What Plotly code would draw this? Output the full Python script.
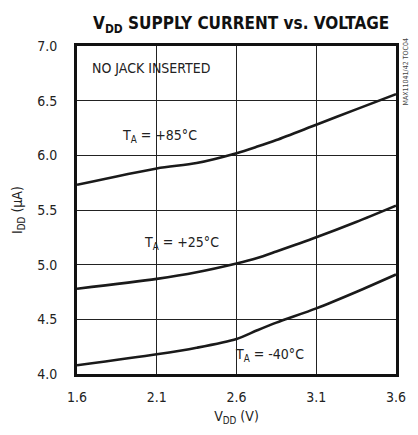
import plotly.graph_objects as go

vdd = [1.6, 2.1, 2.35, 2.6, 2.73, 2.85, 3.1, 3.35, 3.6]
idd_85 = [5.73, 5.88, 5.93, 6.02, 6.08, 6.14, 6.28, 6.42, 6.56]
idd_25 = [4.78, 4.87, 4.93, 5.01, 5.06, 5.12, 5.25, 5.39, 5.54]
idd_m40 = [4.08, 4.18, 4.24, 4.32, 4.40, 4.47, 4.60, 4.75, 4.91]

x_ticks = [1.6, 2.1, 2.6, 3.1, 3.6]
x_labels = ["1.6", "2.1", "2.6", "3.1", "3.6"]
y_ticks = [4.0, 4.5, 5.0, 5.5, 6.0, 6.5, 7.0]
y_labels = ["4.0", "4.5", "5.0", "5.5", "6.0", "6.5", "7.0"]

FONT = "DejaVu Sans Condensed, Liberation Sans Narrow, Arial Narrow"

fig = go.Figure()
for ys in (idd_85, idd_25, idd_m40):
    fig.add_trace(go.Scatter(x=vdd, y=ys, mode="lines",
                             line=dict(color="#1a1a1a", width=2.6, shape="spline", smoothing=0.8),
                             showlegend=False, hoverinfo="skip"))

fig.update_layout(
    width=418, height=435,
    margin=dict(l=77, r=13, t=46, b=60),
    paper_bgcolor="white", plot_bgcolor="white",
    font=dict(family=FONT, color="#222", size=14),
    title=dict(text="<b>V<sub>DD</sub> SUPPLY CURRENT vs. VOLTAGE</b>",
               x=0.577, xanchor="center", y=0.946, yanchor="middle",
               font=dict(family=FONT, size=17, color="#111")),
    xaxis=dict(range=[1.6, 3.6], tickvals=x_ticks, ticktext=x_labels,
               showgrid=True, gridcolor="#222", gridwidth=1,
               showline=True, linecolor="#111", linewidth=3, mirror=True,
               ticks="", zeroline=False, ticklabelstandoff=8,
               title=dict(text="V<sub>DD</sub> (V)", standoff=8, font=dict(size=14))),
    yaxis=dict(range=[4.0, 7.0], tickvals=y_ticks, ticktext=y_labels,
               showgrid=True, gridcolor="#222", gridwidth=1,
               showline=True, linecolor="#111", linewidth=3, mirror=True,
               ticks="", zeroline=False, ticklabelstandoff=14,
               title=dict(text="I<sub>DD</sub> (µA)", standoff=12, font=dict(size=14))),
)

ann = [
    ("NO JACK INSERTED", 1.68, 6.8, "left"),
    ("T<sub>A</sub> = +85°C", 1.87, 6.18, "left"),
    ("T<sub>A</sub> = +25°C", 2.01, 5.2, "left"),
    ("T<sub>A</sub> = -40°C", 2.58, 4.17, "left"),
]
for t, x, y, a in ann:
    fig.add_annotation(x=x, y=y, text=t, showarrow=False, xanchor=a, yanchor="middle",
                       font=dict(family=FONT, size=14, color="#222"))

fig.add_annotation(xref="paper", yref="paper", x=1.0, y=1.0, xshift=3, yshift=9,
                   text="MAX11041/42 TOC04", textangle=-90, showarrow=False,
                   xanchor="left", yanchor="top",
                   font=dict(family=FONT, size=7, color="#444"))

fig.write_html("out.html", config={"displayModeBar": False},
               post_script="document.body.style.margin='0';document.body.style.overflow='hidden';")
